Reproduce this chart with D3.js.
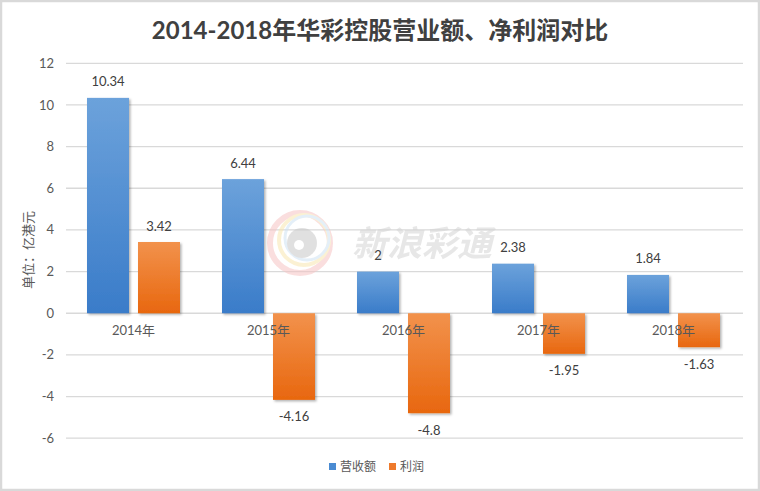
<!DOCTYPE html>
<html><head><meta charset="utf-8">
<script src="https://cdn.jsdelivr.net/npm/d3@7/dist/d3.min.js"></script>
<style>body{margin:0;background:#fff}svg{display:block}</style>
</head><body><div id="chart"></div>
<script>
const categories = ["2014年","2015年","2016年","2017年","2018年"];
const seriesNames = ["营收额","利润"];
const revenue = [10.34, 6.44, 2, 2.38, 1.84];
const profit = [3.42, -4.16, -4.8, -1.95, -1.63];
const yTicks = [-6,-4,-2,0,2,4,6,8,10,12];
const title = "2014-2018年华彩控股营业额、净利润对比";
const yLabel = "单位：亿港元";

const W = 760, H = 491;
const svg = d3.select("#chart").append("svg").attr("width", W).attr("height", H);
const defs = svg.append("defs");
const gb = defs.append("linearGradient").attr("id","gBlue").attr("x1",0).attr("y1",0).attr("x2",0).attr("y2",1);
gb.append("stop").attr("offset","0%").attr("stop-color","#6ca2db");
gb.append("stop").attr("offset","100%").attr("stop-color","#3a7cc9");
const go = defs.append("linearGradient").attr("id","gOrange").attr("x1",0).attr("y1",0).attr("x2",0).attr("y2",1);
go.append("stop").attr("offset","0%").attr("stop-color","#f2924c");
go.append("stop").attr("offset","100%").attr("stop-color","#e8670f");
const sh = defs.append("filter").attr("id","shadow").attr("x","-20%").attr("y","-20%").attr("width","140%").attr("height","140%");
sh.append("feDropShadow").attr("dx",1.5).attr("dy",1.5).attr("stdDeviation",1.2).attr("flood-color","#000").attr("flood-opacity",0.3);

// frame
svg.append("rect").attr("x",1).attr("y",1).attr("width",W-2).attr("height",H-2)
  .attr("fill","#fff").attr("stroke","#d9d9d9").attr("stroke-width",2.5);

const y = d3.scaleLinear().domain([-6,12]).range([438.2, 63.3]);
const x0 = d3.scaleBand().domain(categories).range([66, 741]).padding(0);
const x1 = d3.scaleBand().domain(seriesNames).range([21, 114]).paddingInner(9/51).paddingOuter(0);

// gridlines
svg.append("g").selectAll("line").data(yTicks).join("line")
  .attr("x1",66).attr("x2",743).attr("y1",d=>y(d)).attr("y2",d=>y(d))
  .attr("stroke","#d9d9d9").attr("stroke-width",1.3);

// y tick labels
svg.append("g").selectAll("text").data(yTicks).join("text")
  .attr("x",54).attr("y",d=>y(d)).attr("dy","0.35em").attr("text-anchor","end")
  .attr("font-family","Lato, 'Liberation Sans', sans-serif").attr("font-size",13).attr("fill","#595959")
  .text(d=>d);

// watermark
const wm = svg.append("g").attr("opacity",0.55);
wm.append("circle").attr("cx",300).attr("cy",243).attr("r",30).attr("fill","none").attr("stroke","#f6c4c4").attr("stroke-width",6);
wm.append("circle").attr("cx",304).attr("cy",240).attr("r",25).attr("fill","none").attr("stroke","#f8e7b0").attr("stroke-width",4);
wm.append("circle").attr("cx",307).attr("cy",238).attr("r",22).attr("fill","none").attr("stroke","#cfe2f3").attr("stroke-width",3);
wm.append("circle").attr("cx",302).attr("cy",243).attr("r",15).attr("fill","#c8c8c8");
wm.append("circle").attr("cx",299).attr("cy",245).attr("r",5).attr("fill","#ffffff");
wm.append("text").attr("x",352).attr("y",256).attr("font-family","'Noto Sans CJK SC'").attr("font-weight","bold")
  .attr("font-style","italic").attr("font-size",35).attr("fill","#d4d4d4").text("新浪彩通");

// data rows
const rows = categories.map((c,i)=>({cat:c, vals:[{s:seriesNames[0],v:revenue[i]},{s:seriesNames[1],v:profit[i]}]}));
const fills = {"营收额":"url(#gBlue)","利润":"url(#gOrange)"};

const grp = svg.append("g").selectAll("g").data(rows).join("g")
  .attr("transform",d=>`translate(${x0(d.cat)},0)`);
grp.selectAll("rect").data(d=>d.vals).join("rect")
  .attr("x",d=>x1(d.s)).attr("width",x1.bandwidth())
  .attr("y",d=>y(Math.max(0,d.v))).attr("height",d=>Math.abs(y(d.v)-y(0)))
  .attr("fill",d=>fills[d.s]).attr("filter","url(#shadow)");

// category labels
svg.append("g").selectAll("text").data(categories).join("text")
  .attr("x",d=>x0(d)+x0.bandwidth()/2).attr("y",330).attr("dy","0.35em").attr("text-anchor","middle")
  .attr("font-family","Lato, 'Noto Sans CJK SC', sans-serif").attr("font-size",13).attr("fill","#595959")
  .text(d=>d);

// value labels
grp.selectAll("text.v").data(d=>d.vals).join("text").attr("class","v")
  .attr("x",d=>x1(d.s)+x1.bandwidth()/2)
  .attr("y",d=>d.v>=0 ? y(d.v)-16 : y(d.v)+17).attr("dy","0.35em").attr("text-anchor","middle")
  .attr("font-family","Lato, 'Liberation Sans', sans-serif").attr("font-size",13).attr("fill","#404040")
  .text(d=>d.v);

// title
svg.append("text").attr("x",380).attr("y",31).attr("dy","0.35em").attr("text-anchor","middle")
  .attr("font-family","Lato, 'Noto Sans CJK SC', sans-serif").attr("font-weight","bold").attr("font-size",24).attr("fill","#404040")
  .text(title);

// y label
svg.append("text").attr("transform","translate(28,250) rotate(-90)").attr("dy","0.35em").attr("text-anchor","middle")
  .attr("font-family","'Noto Sans CJK SC', sans-serif").attr("font-size",13).attr("fill","#595959").text(yLabel);

// legend
const leg = svg.append("g");
const legItems = [{s:"营收额",c:"#4a8bd2",x:329},{s:"利润",c:"#ee7a2c",x:389}];
leg.selectAll("rect").data(legItems).join("rect").attr("x",d=>d.x).attr("y",463).attr("width",7).attr("height",7).attr("fill",d=>d.c);
leg.selectAll("text").data(legItems).join("text").attr("x",d=>d.x+11).attr("y",467).attr("dy","0.35em")
  .attr("font-family","'Noto Sans CJK SC', sans-serif").attr("font-size",12).attr("fill","#595959").text(d=>d.s);
</script></body></html>
